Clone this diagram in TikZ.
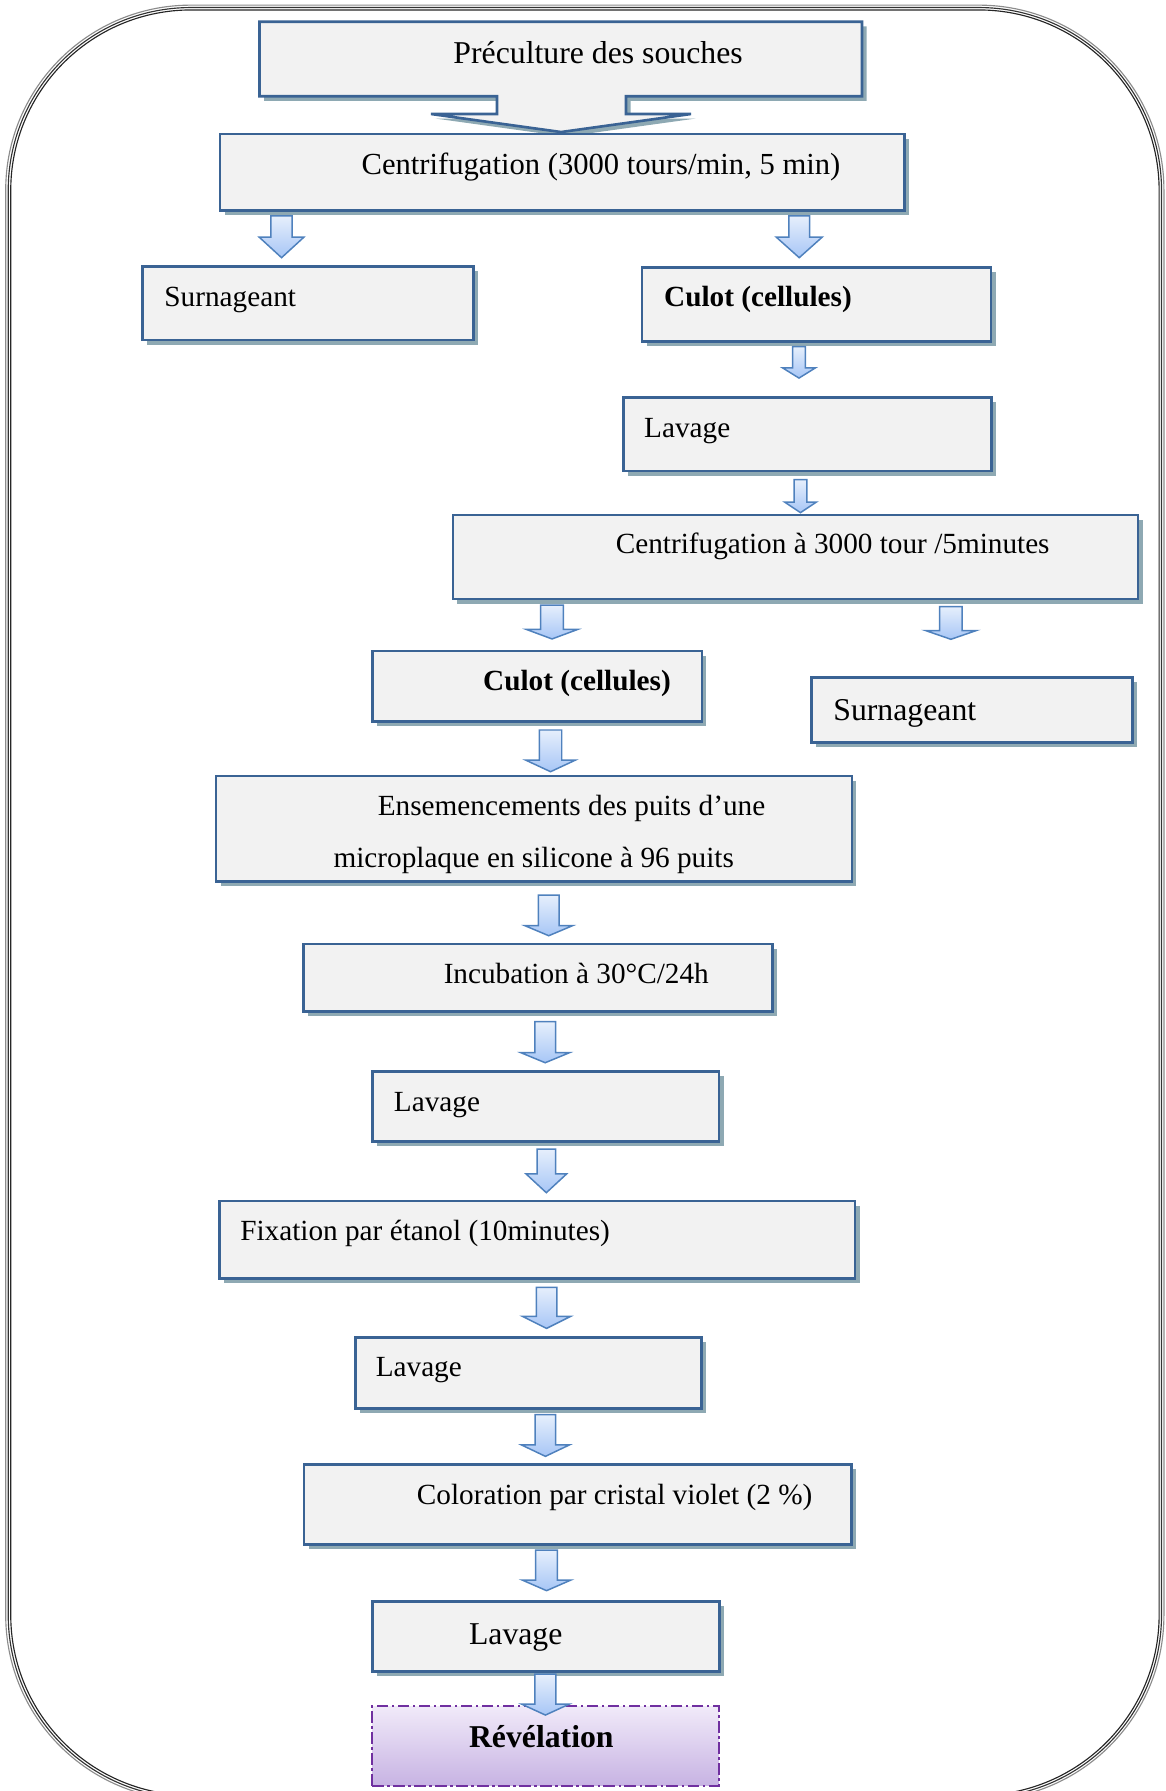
\documentclass[tikz,border=0pt]{standalone}
\usepackage{fontspec}
\setmainfont{Liberation Serif}
\usetikzlibrary{shadows}
\definecolor{boxfill}{HTML}{F2F2F2}
\definecolor{boxdraw}{HTML}{3A6394}
\definecolor{shadowc}{HTML}{8EA9B3}
\definecolor{arrowdraw}{HTML}{4F81BD}
\definecolor{arrowtop}{HTML}{E6EFFC}
\definecolor{arrowbot}{HTML}{A7C6F6}
\definecolor{purpledraw}{HTML}{7030A0}
\definecolor{revtop}{HTML}{F1EAF9}
\definecolor{revbot}{HTML}{C7B3E3}
\newcommand{\fa}{\fontsize{12.8pt}{15pt}\selectfont}
\newcommand{\fb}{\fontsize{13.9pt}{16pt}\selectfont}
\newcommand{\fc}{\fontsize{13.4pt}{16pt}\selectfont}
\tikzset{
  boxline/.style={draw=boxdraw, line width=1.15pt, fill=boxfill, line join=miter,
    drop shadow={shadow xshift=2pt, shadow yshift=-2pt, fill=shadowc, opacity=1}},
  boxst/.style={boxline, inner sep=0pt, outer sep=0pt},
  arrowst/.style={draw=arrowdraw, line width=0.65pt, top color=arrowtop, bottom color=arrowbot, line join=miter},
  txt/.style={inner sep=0pt, outer sep=0pt, anchor=base west, text=black, yshift=-0.5pt},
  revst/.style={draw=purpledraw, line width=0.9pt, dash pattern=on 5pt off 1.6pt on 1pt off 1.6pt,
    top color=revtop, bottom color=revbot, inner sep=0pt, outer sep=0pt},
  framest/.style={line width=0.5pt}
}
% box: name, style, left, top, right, bottom
\newcommand{\bx}[6]{\node[#2, anchor=north west, minimum width={(#5-#3)*0.5pt}, minimum height={(#6-#4)*0.5pt}] (#1) at (#3,#4) {};}
% block arrow: cx, top, base, tip, shaft half, wing half
\newcommand{\barrow}[6]{\path[arrowst] ({#1-#5},#2) -- ({#1+#5},#2) -- ({#1+#5},#3) -- ({#1+#6},#3) -- (#1,#4) -- ({#1-#6},#3) -- ({#1-#5},#3) -- cycle;}
\begin{document}
\begin{tikzpicture}[x=0.5pt, y=-0.5pt]
\useasboundingbox (0,0) rectangle (1020,1568);
% outer triple frame
\draw[framest, draw=black!45, rounded corners=81pt] (5,4.5) rectangle (1019,1576);
\draw[framest, draw=black!80, rounded corners=80pt] (7.2,6.6) rectangle (1016.9,1573.9);
\draw[framest, draw=black!85, rounded corners=79pt] (9.4,8.7) rectangle (1014.8,1571.8);

% Preculture callout box
\path[boxline] (227.2,19) -- (754.7,19) -- (754.7,84.3) -- (548,84.3) -- (548,99.8) -- (605,99.8) -- (491.2,115.6) -- (377.3,99.8) -- (435.1,99.8) -- (435.1,84.3) -- (227.2,84.3) -- cycle;
\node[txt, font=\fb] (tpre) at (397,54.9) {Préculture des souches};

% Centrifugation 1
\bx{centri1}{boxst}{192.6}{117.3}{792}{184.5}
\node[txt, font=\fc] (tcentri1) at (316.6,151.7) {Centrifugation (3000 tours/min, 5 min)};

\barrow{246.5}{189}{207.7}{225.6}{9.3}{19.5}
\barrow{699.7}{189}{207.7}{225.6}{9.1}{20}

% Surnageant left
\bx{surn1}{boxst}{125}{233.5}{414.8}{297.7}
\node[txt, font=\fa] (tsurn1) at (144,267) {Surnageant};

% Culot top
\bx{culot1}{boxst}{562}{234}{867.6}{299}
\node[txt, font=\fa\bfseries] (tculot1) at (581.5,267) {Culot (cellules)};

\barrow{699.5}{303.5}{322}{331}{5.6}{14.5}

% Lavage 1
\bx{lav1}{boxst}{546}{348}{868}{412.4}
\node[txt, font=\fa] (tlav1) at (564,382.3) {Lavage};

\barrow{700.8}{420}{439.5}{448.8}{5.6}{14}

% Centrifugation 2
\bx{centri2}{boxst}{396.5}{450.9}{996.3}{524.4}
\node[txt, font=\fa] (tcentri2) at (539.2,483.9) {Centrifugation à 3000 tour /5minutes};

\barrow{483.3}{529.7}{551}{559.4}{9.9}{22.6}
\barrow{832.5}{531}{552}{559.7}{9.8}{22.3}

% Culot middle
\bx{culot2}{boxst}{326}{570}{614.5}{631.8}
\node[txt, font=\fa\bfseries] (tculot2) at (423,603.5) {Culot (cellules)};

% Surnageant right
\bx{surn2}{boxst}{710.6}{593.3}{991.7}{649.9}
\node[txt, font=\fb] (tsurn2) at (729.6,629.8) {Surnageant};

\barrow{482}{639.1}{665.4}{675.6}{9.8}{21.9}

% Ensemencements
\bx{ens}{boxst}{189.1}{679.4}{745.8}{771.9}
\node[txt, font=\fa] (tens1) at (330.8,713) {Ensemencements des puits d’une};
\node[txt, font=\fa] (tens2) at (292,758.2) {microplaque en silicone à 96 puits};

\barrow{480.4}{783.6}{810.4}{819.2}{9.1}{20.9}

% Incubation
\bx{incub}{boxst}{265.5}{826.5}{676.3}{885.7}
\node[txt, font=\fa] (tincub) at (388.5,860.3) {Incubation à 30°C/24h};

\barrow{477.3}{894.5}{921.6}{930.4}{9.1}{21.3}

% Lavage 2
\bx{lav2}{boxst}{325.9}{938.3}{629.6}{999.5}
\node[txt, font=\fa] (tlav2) at (344.9,971.8) {Lavage};

\barrow{478.3}{1006}{1027.8}{1044.2}{8.1}{17.7}

% Fixation
\bx{fix}{boxst}{192.2}{1051.5}{748.5}{1119.2}
\node[txt, font=\fa] (tfix) at (210.4,1085) {Fixation par étanol (10minutes)};

\barrow{478.5}{1127}{1152.5}{1163}{9}{21}

% Lavage 3
\bx{lav3}{boxst}{311}{1171}{614}{1233}
\node[txt, font=\fa] (tlav3) at (329,1204.5) {Lavage};

\barrow{477.5}{1238.5}{1265}{1275}{9}{21}

% Coloration
\bx{color}{boxst}{266.3}{1282}{745.5}{1352}
\node[txt, font=\fa] (tcolor) at (365,1316) {Coloration par cristal violet (2 \%)};

\barrow{478.5}{1357}{1383.3}{1392.6}{9.5}{21.3}

% Lavage 4
\bx{lav4}{boxst}{325.9}{1402.3}{629.8}{1463.6}
\node[txt, font=\fb] (tlav4) at (410.6,1438.7) {Lavage};

% Revelation
\bx{rev}{revst}{325.9}{1493.6}{629.1}{1563.4}
\node[txt, font=\fb\bfseries] (trev) at (410.6,1528.6) {Révélation};

\barrow{477.5}{1465.6}{1491.9}{1501.5}{9.2}{20.9}
\end{tikzpicture}
\end{document}
